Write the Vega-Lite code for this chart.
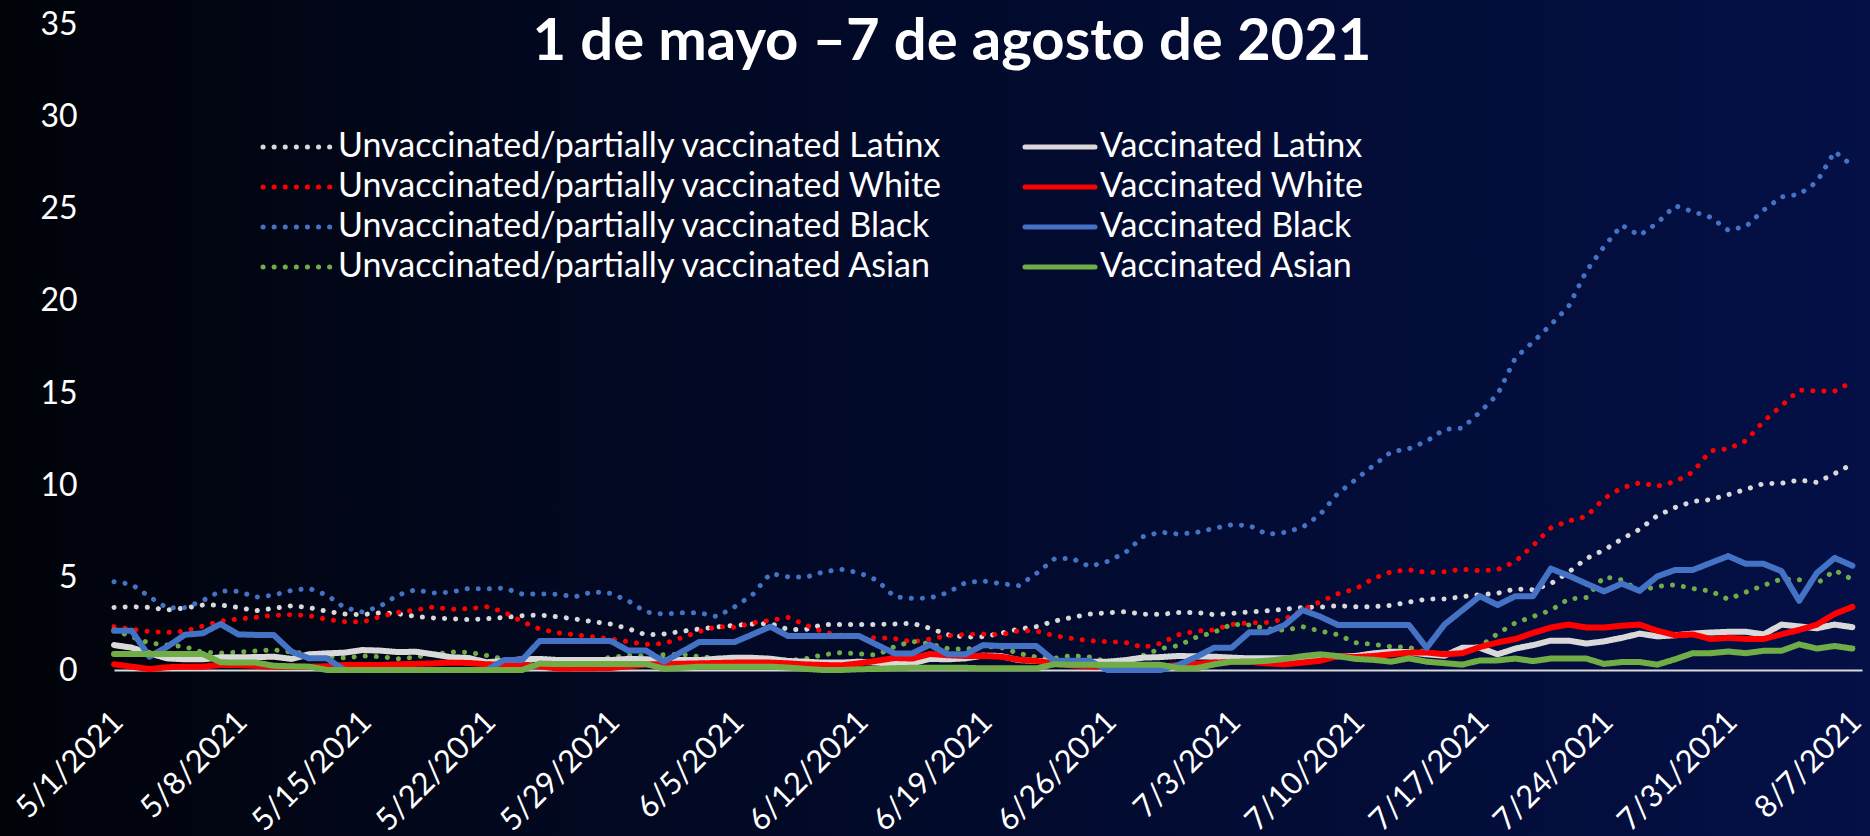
{
"$schema":"https://vega.github.io/schema/vega-lite/v6.json",
"width":1870,"height":836,
"autosize":{"type":"none"},
"padding":0,
"background":"#010309",
"config":{"view":{"stroke":null,"fill":{"gradient":"linear","x1":0,"y1":0,"x2":1,"y2":0,"stops":[{"offset":0,"color":"#010309"},{"offset":0.3,"color":"#020820"},{"offset":0.6,"color":"#020b30"},{"offset":1,"color":"#041046"}]}},"font":"Lato",
 "axisX":{"labelAngle":-45,"labelAlign":"right","labelBaseline":"middle","labelFontSize":31,"labelColor":"#ffffff","labelPadding":47,"labelOffset":4,"ticks":false,"grid":false,"domainColor":"#D9D9D9","domainWidth":2,"labelOverlap":false,"labelFlush":false,"labelBound":false,"offset":-166},
 "axisY":{"labelFontSize":32,"labelColor":"#ffffff","labelPadding":37,"ticks":false,"grid":false,"domain":false,"tickCount":8,"offset":-114},
 "legend":{"labelLimit":0,"labelFontSize":34,"labelColor":"#ffffff","symbolType":"M-5,0L5,0","symbolSize":196,"symbolStrokeWidth":5,"padding":0}
},
"title":{"text":"1 de mayo –7 de agosto de 2021","fontSize":58,"fontWeight":"bold","color":"#ffffff","font":"Lato","anchor":"middle","frame":"group","dx":17,"offset":-72},
"data":{"values":[
{"date":"2021-05-01","UL":3.39,"UW":2.35,"UB":4.78,"UA":2.17,"VL":1.35,"VW":0.31,"VB":2.13,"VA":0.87},
{"date":"2021-05-02","UL":3.43,"UW":2.22,"UB":4.64,"UA":1.8,"VL":1.21,"VW":0.18,"VB":2.13,"VA":0.87},
{"date":"2021-05-03","UL":3.39,"UW":2.08,"UB":3.97,"UA":1.46,"VL":0.9,"VW":0.05,"VB":0.72,"VA":0.87},
{"date":"2021-05-04","UL":3.25,"UW":2.04,"UB":3.36,"UA":1.35,"VL":0.63,"VW":0.15,"VB":1.26,"VA":0.87},
{"date":"2021-05-05","UL":3.36,"UW":2.11,"UB":3.38,"UA":1.26,"VL":0.58,"VW":0.18,"VB":1.91,"VA":0.87},
{"date":"2021-05-06","UL":3.52,"UW":2.38,"UB":3.75,"UA":0.96,"VL":0.58,"VW":0.18,"VB":1.99,"VA":0.87},
{"date":"2021-05-07","UL":3.52,"UW":2.65,"UB":4.28,"UA":0.92,"VL":0.69,"VW":0.27,"VB":2.49,"VA":0.42},
{"date":"2021-05-08","UL":3.39,"UW":2.76,"UB":4.26,"UA":0.97,"VL":0.69,"VW":0.27,"VB":1.93,"VA":0.4},
{"date":"2021-05-09","UL":3.21,"UW":2.85,"UB":3.95,"UA":1.03,"VL":0.7,"VW":0.22,"VB":1.9,"VA":0.4},
{"date":"2021-05-10","UL":3.34,"UW":2.96,"UB":4.06,"UA":1.1,"VL":0.72,"VW":0.18,"VB":1.9,"VA":0.23},
{"date":"2021-05-11","UL":3.48,"UW":3.0,"UB":4.31,"UA":0.97,"VL":0.6,"VW":0.18,"VB":1.0,"VA":0.2},
{"date":"2021-05-12","UL":3.38,"UW":2.94,"UB":4.42,"UA":0.88,"VL":0.85,"VW":0.18,"VB":0.63,"VA":0.18},
{"date":"2021-05-13","UL":3.18,"UW":2.74,"UB":4.06,"UA":0.76,"VL":0.9,"VW":0.2,"VB":0.63,"VA":0},
{"date":"2021-05-14","UL":3.03,"UW":2.62,"UB":3.38,"UA":0.65,"VL":0.94,"VW":0.27,"VB":0,"VA":0},
{"date":"2021-05-15","UL":3.0,"UW":2.6,"UB":3.14,"UA":0.76,"VL":1.08,"VW":0.27,"VB":0,"VA":0},
{"date":"2021-05-16","UL":3.1,"UW":2.89,"UB":3.45,"UA":0.72,"VL":1.05,"VW":0.27,"VB":0,"VA":0},
{"date":"2021-05-17","UL":3.05,"UW":3.12,"UB":4.06,"UA":0.61,"VL":0.97,"VW":0.31,"VB":0,"VA":0},
{"date":"2021-05-18","UL":2.9,"UW":3.25,"UB":4.35,"UA":0.7,"VL":0.99,"VW":0.33,"VB":0,"VA":0},
{"date":"2021-05-19","UL":2.82,"UW":3.41,"UB":4.17,"UA":0.85,"VL":0.85,"VW":0.36,"VB":0,"VA":0},
{"date":"2021-05-20","UL":2.78,"UW":3.29,"UB":4.22,"UA":0.97,"VL":0.69,"VW":0.4,"VB":0,"VA":0},
{"date":"2021-05-21","UL":2.73,"UW":3.32,"UB":4.42,"UA":0.96,"VL":0.65,"VW":0.38,"VB":0,"VA":0},
{"date":"2021-05-22","UL":2.78,"UW":3.43,"UB":4.39,"UA":0.79,"VL":0.42,"VW":0.31,"VB":0,"VA":0},
{"date":"2021-05-23","UL":2.85,"UW":3.14,"UB":4.44,"UA":0.58,"VL":0.49,"VW":0.29,"VB":0.54,"VA":0},
{"date":"2021-05-24","UL":2.94,"UW":2.62,"UB":4.12,"UA":0.54,"VL":0.58,"VW":0.27,"VB":0.54,"VA":0},
{"date":"2021-05-25","UL":2.98,"UW":2.22,"UB":4.12,"UA":0.45,"VL":0.6,"VW":0.2,"VB":1.57,"VA":0.35},
{"date":"2021-05-26","UL":2.89,"UW":2.02,"UB":4.1,"UA":0.4,"VL":0.54,"VW":0.08,"VB":1.57,"VA":0.32},
{"date":"2021-05-27","UL":2.76,"UW":1.91,"UB":3.97,"UA":0.4,"VL":0.54,"VW":0.09,"VB":1.57,"VA":0.32},
{"date":"2021-05-28","UL":2.62,"UW":1.8,"UB":4.24,"UA":0.49,"VL":0.54,"VW":0.1,"VB":1.57,"VA":0.32},
{"date":"2021-05-29","UL":2.49,"UW":1.68,"UB":4.15,"UA":0.69,"VL":0.54,"VW":0.11,"VB":1.57,"VA":0.32},
{"date":"2021-05-30","UL":2.24,"UW":1.53,"UB":3.74,"UA":0.79,"VL":0.6,"VW":0.2,"VB":1.05,"VA":0.32},
{"date":"2021-05-31","UL":1.9,"UW":1.39,"UB":3.14,"UA":0.76,"VL":0.58,"VW":0.3,"VB":1.05,"VA":0.32},
{"date":"2021-06-01","UL":1.95,"UW":1.43,"UB":3.03,"UA":0.83,"VL":0.52,"VW":0.32,"VB":0.45,"VA":0.07},
{"date":"2021-06-02","UL":2.09,"UW":1.75,"UB":3.1,"UA":0.85,"VL":0.54,"VW":0.34,"VB":0.98,"VA":0.12},
{"date":"2021-06-03","UL":2.22,"UW":2.08,"UB":3.1,"UA":0.72,"VL":0.54,"VW":0.36,"VB":1.52,"VA":0.18},
{"date":"2021-06-04","UL":2.33,"UW":2.35,"UB":2.89,"UA":0.65,"VL":0.61,"VW":0.38,"VB":1.52,"VA":0.18},
{"date":"2021-06-05","UL":2.42,"UW":2.31,"UB":3.43,"UA":0.7,"VL":0.67,"VW":0.4,"VB":1.52,"VA":0.18},
{"date":"2021-06-06","UL":2.49,"UW":2.55,"UB":4.08,"UA":0.65,"VL":0.66,"VW":0.4,"VB":1.93,"VA":0.18},
{"date":"2021-06-07","UL":2.51,"UW":2.69,"UB":5.23,"UA":0.61,"VL":0.61,"VW":0.4,"VB":2.35,"VA":0.18},
{"date":"2021-06-08","UL":2.2,"UW":2.85,"UB":5.05,"UA":0.52,"VL":0.49,"VW":0.36,"VB":1.84,"VA":0.13},
{"date":"2021-06-09","UL":2.2,"UW":2.44,"UB":5.02,"UA":0.61,"VL":0.45,"VW":0.3,"VB":1.84,"VA":0.06},
{"date":"2021-06-10","UL":2.47,"UW":2.06,"UB":5.32,"UA":0.83,"VL":0.4,"VW":0.27,"VB":1.84,"VA":0},
{"date":"2021-06-11","UL":2.47,"UW":1.88,"UB":5.45,"UA":0.94,"VL":0.4,"VW":0.25,"VB":1.84,"VA":0},
{"date":"2021-06-12","UL":2.47,"UW":1.77,"UB":5.27,"UA":0.87,"VL":0.45,"VW":0.36,"VB":1.84,"VA":0.04},
{"date":"2021-06-13","UL":2.47,"UW":1.75,"UB":4.87,"UA":0.81,"VL":0.4,"VW":0.5,"VB":1.37,"VA":0.06},
{"date":"2021-06-14","UL":2.49,"UW":1.7,"UB":3.97,"UA":1.26,"VL":0.32,"VW":0.65,"VB":0.9,"VA":0.1},
{"date":"2021-06-15","UL":2.53,"UW":1.53,"UB":3.88,"UA":1.55,"VL":0.36,"VW":0.62,"VB":0.9,"VA":0.12},
{"date":"2021-06-16","UL":2.26,"UW":1.68,"UB":3.9,"UA":1.41,"VL":0.6,"VW":0.87,"VB":1.37,"VA":0.12},
{"date":"2021-06-17","UL":1.91,"UW":1.86,"UB":4.19,"UA":1.16,"VL":0.58,"VW":0.8,"VB":0.85,"VA":0.12},
{"date":"2021-06-18","UL":1.79,"UW":1.93,"UB":4.73,"UA":1.12,"VL":0.63,"VW":0.76,"VB":0.85,"VA":0.12},
{"date":"2021-06-19","UL":1.8,"UW":1.95,"UB":4.82,"UA":1.28,"VL":0.78,"VW":0.76,"VB":1.35,"VA":0.09},
{"date":"2021-06-20","UL":1.99,"UW":1.91,"UB":4.68,"UA":1.23,"VL":0.76,"VW":0.72,"VB":1.3,"VA":0.09},
{"date":"2021-06-21","UL":2.22,"UW":2.13,"UB":4.57,"UA":0.9,"VL":0.54,"VW":0.56,"VB":1.3,"VA":0.09},
{"date":"2021-06-22","UL":2.35,"UW":2.11,"UB":5.23,"UA":0.7,"VL":0.49,"VW":0.49,"VB":1.3,"VA":0.09},
{"date":"2021-06-23","UL":2.65,"UW":1.86,"UB":6.01,"UA":0.63,"VL":0.45,"VW":0.36,"VB":0.5,"VA":0.31},
{"date":"2021-06-24","UL":2.85,"UW":1.71,"UB":6.05,"UA":0.78,"VL":0.45,"VW":0.25,"VB":0.5,"VA":0.28},
{"date":"2021-06-25","UL":3.03,"UW":1.59,"UB":5.61,"UA":0.7,"VL":0.45,"VW":0.2,"VB":0.5,"VA":0.28},
{"date":"2021-06-26","UL":3.1,"UW":1.53,"UB":5.88,"UA":0.45,"VL":0.45,"VW":0.18,"VB":0,"VA":0.28},
{"date":"2021-06-27","UL":3.16,"UW":1.5,"UB":6.35,"UA":0.52,"VL":0.53,"VW":0.18,"VB":0,"VA":0.28},
{"date":"2021-06-28","UL":3.03,"UW":1.23,"UB":7.22,"UA":0.78,"VL":0.67,"VW":0.18,"VB":0,"VA":0.28},
{"date":"2021-06-29","UL":3.01,"UW":1.44,"UB":7.47,"UA":1.16,"VL":0.7,"VW":0.18,"VB":0,"VA":0.28},
{"date":"2021-06-30","UL":3.12,"UW":1.91,"UB":7.36,"UA":1.32,"VL":0.76,"VW":0.27,"VB":0.27,"VA":0.1},
{"date":"2021-07-01","UL":3.12,"UW":2.11,"UB":7.45,"UA":1.77,"VL":0.74,"VW":0.33,"VB":0.7,"VA":0.09},
{"date":"2021-07-02","UL":3.0,"UW":2.17,"UB":7.67,"UA":2.04,"VL":0.72,"VW":0.4,"VB":1.2,"VA":0.3},
{"date":"2021-07-03","UL":3.07,"UW":2.47,"UB":7.87,"UA":2.47,"VL":0.67,"VW":0.43,"VB":1.2,"VA":0.45},
{"date":"2021-07-04","UL":3.14,"UW":2.55,"UB":7.83,"UA":2.44,"VL":0.63,"VW":0.45,"VB":2.04,"VA":0.45},
{"date":"2021-07-05","UL":3.21,"UW":2.58,"UB":7.35,"UA":2.24,"VL":0.63,"VW":0.36,"VB":2.04,"VA":0.5},
{"date":"2021-07-06","UL":3.29,"UW":2.76,"UB":7.45,"UA":2.15,"VL":0.63,"VW":0.31,"VB":2.44,"VA":0.6},
{"date":"2021-07-07","UL":3.39,"UW":3.25,"UB":7.73,"UA":2.35,"VL":0.65,"VW":0.4,"VB":3.25,"VA":0.75},
{"date":"2021-07-08","UL":3.41,"UW":3.7,"UB":8.43,"UA":2.11,"VL":0.67,"VW":0.5,"VB":2.89,"VA":0.85},
{"date":"2021-07-09","UL":3.48,"UW":4.13,"UB":9.57,"UA":1.91,"VL":0.74,"VW":0.76,"VB":2.44,"VA":0.75},
{"date":"2021-07-10","UL":3.43,"UW":4.4,"UB":10.32,"UA":1.48,"VL":0.76,"VW":0.7,"VB":2.44,"VA":0.6},
{"date":"2021-07-11","UL":3.43,"UW":4.96,"UB":11.08,"UA":1.39,"VL":0.9,"VW":0.76,"VB":2.44,"VA":0.55},
{"date":"2021-07-12","UL":3.5,"UW":5.32,"UB":11.82,"UA":1.26,"VL":0.99,"VW":0.85,"VB":2.44,"VA":0.45},
{"date":"2021-07-13","UL":3.68,"UW":5.43,"UB":11.99,"UA":1.23,"VL":0.97,"VW":0.94,"VB":2.44,"VA":0.63},
{"date":"2021-07-14","UL":3.84,"UW":5.28,"UB":12.4,"UA":0.94,"VL":0.85,"VW":0.95,"VB":1.2,"VA":0.45},
{"date":"2021-07-15","UL":3.85,"UW":5.32,"UB":13.04,"UA":0.91,"VL":0.77,"VW":0.85,"VB":2.46,"VA":0.37},
{"date":"2021-07-16","UL":3.97,"UW":5.46,"UB":13.1,"UA":1.16,"VL":1.2,"VW":0.91,"VB":3.23,"VA":0.29},
{"date":"2021-07-17","UL":4.08,"UW":5.38,"UB":13.97,"UA":1.28,"VL":1.2,"VW":1.24,"VB":4.0,"VA":0.52},
{"date":"2021-07-18","UL":4.16,"UW":5.44,"UB":14.94,"UA":1.97,"VL":0.85,"VW":1.49,"VB":3.52,"VA":0.52},
{"date":"2021-07-19","UL":4.39,"UW":5.88,"UB":16.91,"UA":2.55,"VL":1.16,"VW":1.68,"VB":4.0,"VA":0.62},
{"date":"2021-07-20","UL":4.35,"UW":6.75,"UB":17.78,"UA":2.9,"VL":1.35,"VW":2.01,"VB":4.0,"VA":0.48},
{"date":"2021-07-21","UL":4.68,"UW":7.7,"UB":18.71,"UA":3.23,"VL":1.59,"VW":2.3,"VB":5.49,"VA":0.62},
{"date":"2021-07-22","UL":5.3,"UW":8.07,"UB":19.69,"UA":3.85,"VL":1.59,"VW":2.46,"VB":5.11,"VA":0.62},
{"date":"2021-07-23","UL":6.04,"UW":8.32,"UB":21.61,"UA":3.93,"VL":1.43,"VW":2.3,"VB":4.68,"VA":0.62},
{"date":"2021-07-24","UL":6.5,"UW":9.29,"UB":22.94,"UA":5.05,"VL":1.55,"VW":2.3,"VB":4.26,"VA":0.33},
{"date":"2021-07-25","UL":7.1,"UW":9.87,"UB":24.1,"UA":4.88,"VL":1.74,"VW":2.4,"VB":4.68,"VA":0.43},
{"date":"2021-07-26","UL":7.62,"UW":10.14,"UB":23.54,"UA":4.29,"VL":1.97,"VW":2.46,"VB":4.29,"VA":0.43},
{"date":"2021-07-27","UL":8.36,"UW":9.96,"UB":24.22,"UA":4.53,"VL":1.82,"VW":2.13,"VB":5.07,"VA":0.29},
{"date":"2021-07-28","UL":8.8,"UW":10.2,"UB":25.15,"UA":4.62,"VL":1.88,"VW":1.88,"VB":5.42,"VA":0.58},
{"date":"2021-07-29","UL":9.13,"UW":10.72,"UB":24.84,"UA":4.41,"VL":1.97,"VW":1.93,"VB":5.42,"VA":0.91},
{"date":"2021-07-30","UL":9.23,"UW":11.88,"UB":24.53,"UA":4.28,"VL":2.03,"VW":1.68,"VB":5.8,"VA":0.91},
{"date":"2021-07-31","UL":9.5,"UW":11.98,"UB":23.83,"UA":3.83,"VL":2.07,"VW":1.74,"VB":6.17,"VA":1.0},
{"date":"2021-08-01","UL":9.79,"UW":12.42,"UB":24.03,"UA":4.22,"VL":2.07,"VW":1.68,"VB":5.75,"VA":0.91},
{"date":"2021-08-02","UL":10.1,"UW":13.48,"UB":24.92,"UA":4.59,"VL":1.93,"VW":1.68,"VB":5.75,"VA":1.04},
{"date":"2021-08-03","UL":10.12,"UW":14.32,"UB":25.63,"UA":4.93,"VL":2.46,"VW":1.93,"VB":5.36,"VA":1.04},
{"date":"2021-08-04","UL":10.29,"UW":15.17,"UB":25.77,"UA":4.89,"VL":2.36,"VW":2.17,"VB":3.75,"VA":1.39},
{"date":"2021-08-05","UL":10.16,"UW":15.11,"UB":26.45,"UA":4.68,"VL":2.26,"VW":2.46,"VB":5.26,"VA":1.16},
{"date":"2021-08-06","UL":10.64,"UW":15.11,"UB":28.09,"UA":5.4,"VL":2.46,"VW":3.04,"VB":6.07,"VA":1.3},
{"date":"2021-08-07","UL":11.16,"UW":15.61,"UB":27.32,"UA":4.9,"VL":2.32,"VW":3.42,"VB":5.65,"VA":1.16}
]},
"encoding":{
 "x":{"field":"date","type":"temporal","title":null,
  "scale":{"type":"utc","range":[114,1862],"domain":[{"year":2021,"month":5,"date":1,"utc":true},{"year":2021,"month":8,"date":7,"hours":13,"utc":true}]},
  "axis":{"format":"%-m/%-d/%Y","values":[
   {"year":2021,"month":5,"date":1,"utc":true},{"year":2021,"month":5,"date":8,"utc":true},{"year":2021,"month":5,"date":15,"utc":true},{"year":2021,"month":5,"date":22,"utc":true},{"year":2021,"month":5,"date":29,"utc":true},{"year":2021,"month":6,"date":5,"utc":true},{"year":2021,"month":6,"date":12,"utc":true},{"year":2021,"month":6,"date":19,"utc":true},{"year":2021,"month":6,"date":26,"utc":true},{"year":2021,"month":7,"date":3,"utc":true},{"year":2021,"month":7,"date":10,"utc":true},{"year":2021,"month":7,"date":17,"utc":true},{"year":2021,"month":7,"date":24,"utc":true},{"year":2021,"month":7,"date":31,"utc":true},{"year":2021,"month":8,"date":7,"utc":true}]}}
},
"layer":[
 {"mark":{"type":"line","strokeWidth":5,"strokeCap":"round","strokeJoin":"round"},
  "encoding":{"y":{"field":"UL","type":"quantitative","title":null,"scale":{"domain":[0,35],"nice":false,"range":[670,24]}},
   "color":{"datum":"Unvaccinated/partially vaccinated Latinx","type":"nominal",
    "scale":{"domain":["Unvaccinated/partially vaccinated Latinx","Unvaccinated/partially vaccinated White","Unvaccinated/partially vaccinated Black","Unvaccinated/partially vaccinated Asian","Vaccinated Latinx","Vaccinated White","Vaccinated Black","Vaccinated Asian"],"range":["#D9D9D9","#FF0000","#4472C4","#70AD47","#D9D9D9","#FF0000","#4472C4","#70AD47"]},
    "legend":{"title":null,"orient":"none","legendX":281,"legendY":130,"columns":2,"columnPadding":71,"rowPadding":6,"labelOffset":23,"encode":{"symbols":{"update":{"strokeCap":{"value":"round"}}}}}},
   "strokeDash":{"datum":"Unvaccinated/partially vaccinated Latinx","type":"nominal",
    "scale":{"domain":["Unvaccinated/partially vaccinated Latinx","Unvaccinated/partially vaccinated White","Unvaccinated/partially vaccinated Black","Unvaccinated/partially vaccinated Asian","Vaccinated Latinx","Vaccinated White","Vaccinated Black","Vaccinated Asian"],"range":[[0.1,11],[0.1,11],[0.1,11],[0.1,11],[1,0],[1,0],[1,0],[1,0]]},
    "legend":{"title":null,"orient":"none","legendX":281,"legendY":130,"columns":2,"columnPadding":71,"rowPadding":6,"labelOffset":23,"encode":{"symbols":{"update":{"strokeCap":{"value":"round"}}}}}}}},
 {"mark":{"type":"line","strokeWidth":5,"strokeCap":"round","strokeJoin":"round"},
  "encoding":{"y":{"field":"UW","type":"quantitative","title":null},"color":{"datum":"Unvaccinated/partially vaccinated White","type":"nominal"},"strokeDash":{"datum":"Unvaccinated/partially vaccinated White","type":"nominal"}}},
 {"mark":{"type":"line","strokeWidth":5,"strokeCap":"round","strokeJoin":"round"},
  "encoding":{"y":{"field":"UB","type":"quantitative","title":null},"color":{"datum":"Unvaccinated/partially vaccinated Black","type":"nominal"},"strokeDash":{"datum":"Unvaccinated/partially vaccinated Black","type":"nominal"}}},
 {"mark":{"type":"line","strokeWidth":5,"strokeCap":"round","strokeJoin":"round"},
  "encoding":{"y":{"field":"UA","type":"quantitative","title":null},"color":{"datum":"Unvaccinated/partially vaccinated Asian","type":"nominal"},"strokeDash":{"datum":"Unvaccinated/partially vaccinated Asian","type":"nominal"}}},
 {"mark":{"type":"line","strokeWidth":6,"strokeCap":"round","strokeJoin":"round"},
  "encoding":{"y":{"field":"VL","type":"quantitative","title":null},"color":{"datum":"Vaccinated Latinx","type":"nominal"},"strokeDash":{"datum":"Vaccinated Latinx","type":"nominal"}}},
 {"mark":{"type":"line","strokeWidth":6,"strokeCap":"round","strokeJoin":"round"},
  "encoding":{"y":{"field":"VW","type":"quantitative","title":null},"color":{"datum":"Vaccinated White","type":"nominal"},"strokeDash":{"datum":"Vaccinated White","type":"nominal"}}},
 {"mark":{"type":"line","strokeWidth":6,"strokeCap":"round","strokeJoin":"round"},
  "encoding":{"y":{"field":"VB","type":"quantitative","title":null},"color":{"datum":"Vaccinated Black","type":"nominal"},"strokeDash":{"datum":"Vaccinated Black","type":"nominal"}}},
 {"mark":{"type":"line","strokeWidth":6,"strokeCap":"round","strokeJoin":"round"},
  "encoding":{"y":{"field":"VA","type":"quantitative","title":null},"color":{"datum":"Vaccinated Asian","type":"nominal"},"strokeDash":{"datum":"Vaccinated Asian","type":"nominal"}}}
]
}
